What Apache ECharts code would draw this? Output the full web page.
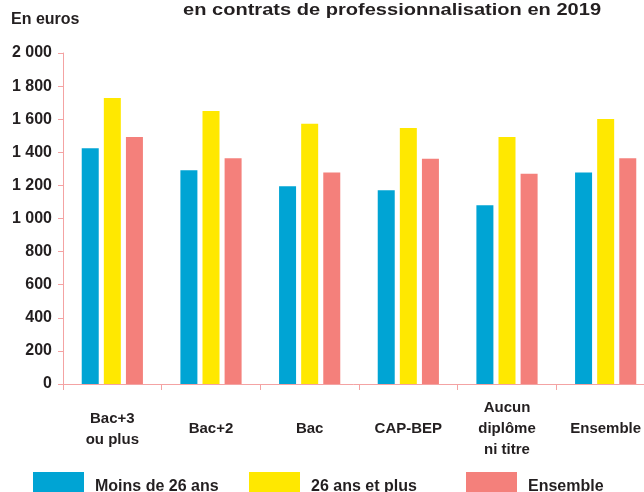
<!DOCTYPE html>
<html>
<head>
<meta charset="utf-8">
<script src="https://cdn.jsdelivr.net/npm/echarts@6/dist/echarts.min.js"></script>
<style>
html,body{margin:0;padding:0;background:#fff;}
#chart{width:644px;height:492px;}
</style>
</head>
<body>
<div id="chart"></div>
<script>
var categories = ['Bac+3\nou plus', 'Bac+2', 'Bac', 'CAP-BEP', 'Aucun\ndiplôme\nni titre', 'Ensemble'];
var moins26 = [1425, 1292, 1195, 1170, 1080, 1278];
var plus26 = [1728, 1650, 1573, 1547, 1492, 1601];
var ensemble = [1493, 1364, 1278, 1361, 1271, 1364];
var seriesNames = ['Moins de 26 ans', '26 ans et plus', 'Ensemble'];
var titleText = 'en contrats de professionnalisation en 2019';
var unitText = 'En euros';

var FONT = '"Liberation Sans", Arial, sans-serif';
var TXT = '#231F20';
var AXIS = '#F4A3A3';
var colors = ['#00A4D4', '#FFE800', '#F4807B'];

var chart = echarts.init(document.getElementById('chart'), null, {renderer: 'canvas'});

function legendAt(idx, left) {
  return {
    data: [seriesNames[idx]],
    left: left, top: 472, padding: 0,
    itemWidth: 51, itemHeight: 30,
    icon: 'rect',
    selectedMode: false,
    textStyle: {fontFamily: FONT, fontSize: 16, fontWeight: 'bold', color: TXT, padding: [0, 0, 0, 6]}
  };
}

chart.setOption({
  animation: false,
  color: colors,
  textStyle: {fontFamily: FONT},
  graphic: [
    {type: 'text', left: 183, top: 2, scaleX: 1.18,
     style: {text: titleText, fontFamily: FONT, fontSize: 17, fontWeight: 'bold', fill: TXT}},
    {type: 'text', left: 11, top: 12,
     style: {text: unitText, fontFamily: FONT, fontSize: 16, fontWeight: 'bold', fill: TXT}}
  ],
  legend: [legendAt(0, 33), legendAt(1, 249), legendAt(2, 466)],
  grid: {left: 63, top: 53, width: 592, height: 331, containLabel: false, outerBoundsMode: 'none'},
  xAxis: {
    type: 'category',
    data: categories,
    axisLine: {lineStyle: {color: AXIS, width: 1}},
    axisTick: {show: true, length: 6, alignWithLabel: false, lineStyle: {color: AXIS}},
    axisLabel: {
      interval: 0, margin: 45, verticalAlign: 'middle', lineHeight: 21,
      fontFamily: FONT, fontSize: 15, fontWeight: 'bold', color: TXT
    }
  },
  yAxis: {
    type: 'value',
    min: 0, max: 2000, interval: 200,
    axisLine: {show: true, lineStyle: {color: AXIS, width: 1}},
    axisTick: {show: true, length: 5, lineStyle: {color: AXIS}},
    splitLine: {show: false},
    axisLabel: {
      margin: 11, fontFamily: FONT, fontSize: 16, fontWeight: 'bold', color: TXT,
      formatter: function (v) { return String(v).replace(/\B(?=(\d{3})+(?!\d))/g, ' '); }
    }
  },
  series: [
    {name: seriesNames[0], type: 'bar', data: moins26, barWidth: 17, barGap: '30%'},
    {name: seriesNames[1], type: 'bar', data: plus26, barWidth: 17, barGap: '30%'},
    {name: seriesNames[2], type: 'bar', data: ensemble, barWidth: 17, barGap: '30%'}
  ]
});
</script>
</body>
</html>
